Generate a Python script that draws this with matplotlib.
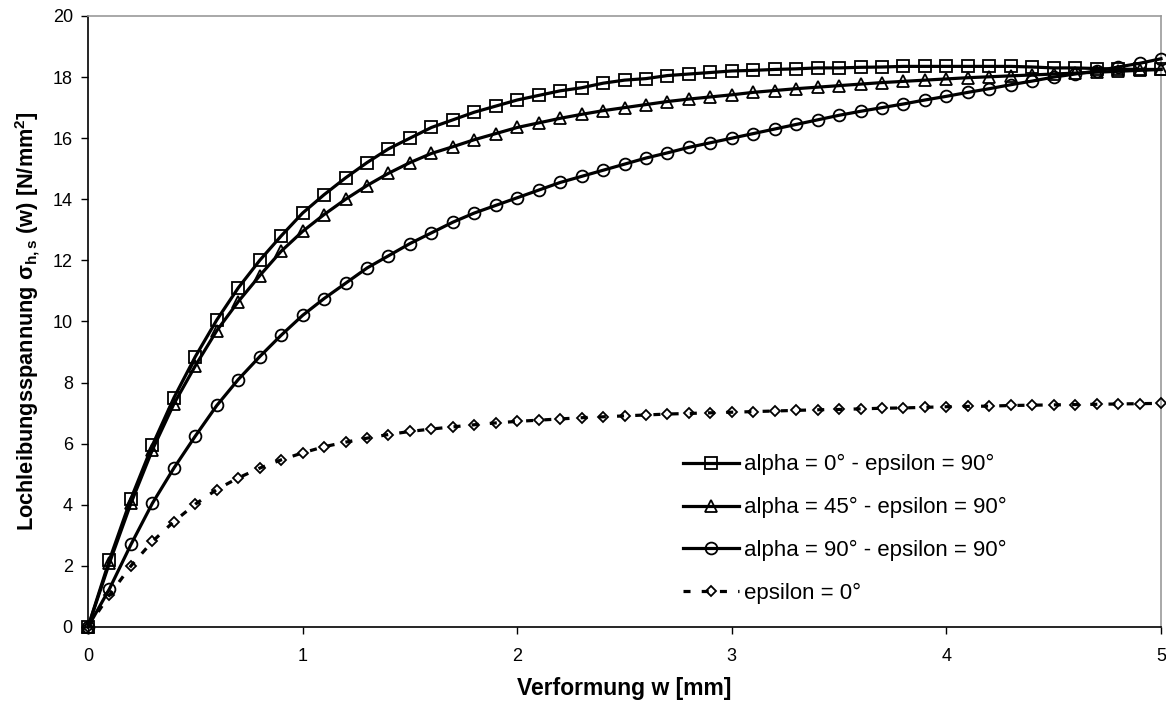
import numpy as np
import matplotlib
matplotlib.use("Agg")
import matplotlib.pyplot as plt

plt.rcParams["font.family"] = ["Liberation Sans", "DejaVu Sans"]
plt.rcParams["mathtext.fontset"] = "custom"
plt.rcParams["mathtext.rm"] = "Liberation Sans"
plt.rcParams["mathtext.bf"] = "Liberation Sans:bold"
plt.rcParams["mathtext.it"] = "Liberation Sans:italic"

# deformation w [mm], one reading every 0.1 mm
w = np.round(np.arange(0, 51) * 0.1, 1)

alpha0 = [0, 2.2, 4.2, 5.95, 7.5, 8.85, 10.05, 11.1, 12.0, 12.8,
          13.55, 14.15, 14.7, 15.2, 15.65, 16.0, 16.35, 16.6, 16.85, 17.05,
          17.25, 17.4, 17.55, 17.65, 17.8, 17.9, 17.95, 18.05, 18.1, 18.15,
          18.2, 18.22, 18.25, 18.27, 18.3, 18.3, 18.32, 18.33, 18.35, 18.35,
          18.35, 18.35, 18.35, 18.35, 18.33, 18.3, 18.3, 18.28, 18.26, 18.25,
          18.25]
alpha45 = [0, 2.1, 4.05, 5.8, 7.3, 8.55, 9.7, 10.65, 11.5, 12.3,
           12.95, 13.5, 14.0, 14.45, 14.85, 15.2, 15.5, 15.72, 15.95, 16.15,
           16.35, 16.5, 16.65, 16.78, 16.9, 17.0, 17.1, 17.2, 17.28, 17.35,
           17.42, 17.5, 17.56, 17.62, 17.67, 17.72, 17.77, 17.82, 17.86, 17.9,
           17.94, 17.98, 18.01, 18.04, 18.07, 18.1, 18.13, 18.16, 18.19, 18.22,
           18.25]
alpha90 = [0, 1.25, 2.7, 4.05, 5.2, 6.25, 7.25, 8.1, 8.85, 9.55,
           10.2, 10.75, 11.25, 11.75, 12.15, 12.55, 12.9, 13.25, 13.55, 13.8,
           14.05, 14.3, 14.55, 14.75, 14.95, 15.15, 15.35, 15.52, 15.7, 15.85,
           16.0, 16.15, 16.3, 16.45, 16.6, 16.75, 16.88, 17.0, 17.12, 17.25,
           17.37, 17.5, 17.62, 17.75, 17.87, 18.0, 18.1, 18.2, 18.33, 18.45,
           18.6]
eps0 = [0, 1.05, 2.0, 2.8, 3.45, 4.02, 4.5, 4.88, 5.2, 5.47,
        5.7, 5.9, 6.05, 6.18, 6.3, 6.4, 6.48, 6.55, 6.62, 6.68,
        6.73, 6.77, 6.81, 6.85, 6.88, 6.91, 6.94, 6.97, 6.99, 7.01,
        7.03, 7.05, 7.07, 7.09, 7.11, 7.12, 7.14, 7.16, 7.17, 7.19,
        7.21, 7.22, 7.23, 7.25, 7.26, 7.27, 7.28, 7.29, 7.30, 7.31,
        7.32]

labels = ["alpha = 0° - epsilon = 90°",
          "alpha = 45° - epsilon = 90°",
          "alpha = 90° - epsilon = 90°",
          "epsilon = 0°"]

fig = plt.figure(figsize=(11.66, 7.04), dpi=100)
ax = fig.add_axes([0.0755, 0.1094, 0.9202, 0.8679])

ax.plot(w, alpha0, "-", color="black", lw=2.3, marker="s", ms=8.5,
        mfc="none", mec="black", mew=1.3, label=labels[0], clip_on=False, zorder=4)
ax.plot(w, alpha45, "-", color="black", lw=2.3, marker="^", ms=8.5,
        mfc="none", mec="black", mew=1.3, label=labels[1], clip_on=False, zorder=4)
ax.plot(w, alpha90, "-", color="black", lw=2.3, marker="o", ms=8.5,
        mfc="none", mec="black", mew=1.3, label=labels[2], clip_on=False, zorder=4)
ax.plot(w, eps0, color="black", lw=2.3, ls=(0, (2.2, 3.5)), marker="D", ms=5,
        mfc="none", mec="black", mew=1.3, label=labels[3], clip_on=False, zorder=4)

ax.set_xlim(0, 5)
ax.set_ylim(0, 20)
ax.set_xticks(range(0, 6))
ax.set_yticks(range(0, 21, 2))
ax.tick_params(axis="both", direction="out", length=5, width=1,
               labelsize=13, colors="black")
ax.tick_params(axis="x", pad=10)
ax.tick_params(axis="y", pad=6)

for side in ["left", "bottom"]:
    ax.spines[side].set_color("black")
    ax.spines[side].set_linewidth(1.2)
for side in ["top", "right"]:
    ax.spines[side].set_color("#999999")
    ax.spines[side].set_linewidth(1.2)

ax.set_xlabel("Verformung w [mm]", fontsize=16.5, fontweight="bold", labelpad=9)
ax.set_ylabel(r"Lochleibungsspannung σ$_{\mathbf{h,s}}$ (w) [N/mm$^{\mathbf{2}}$]",
              fontsize=15.7, fontweight="bold", labelpad=8)

ax.legend(loc="center left", bbox_to_anchor=(0.5545, 0.160), frameon=False,
          fontsize=16, borderpad=0, borderaxespad=0, handlelength=2.5,
          handletextpad=0.25, labelspacing=0.98)

fig.savefig("out.png", dpi=100, facecolor="white")
